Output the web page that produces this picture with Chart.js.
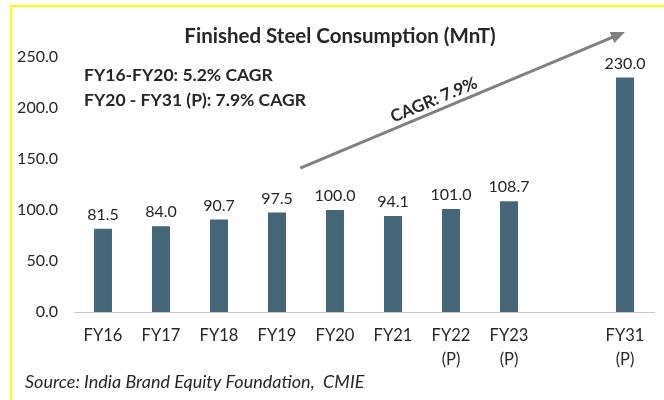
<!DOCTYPE html>
<html>
<head>
<meta charset="utf-8">
<script src="https://cdn.jsdelivr.net/npm/chart.js@4.4.1/dist/chart.umd.min.js"></script>
<style>
  body { margin: 0; background: #fff; }
  canvas { display: block; }
</style>
</head>
<body>
<canvas id="steel-chart" width="664" height="400"></canvas>
<script>
// chart data
const categories = [['FY16'], ['FY17'], ['FY18'], ['FY19'], ['FY20'], ['FY21'],
    ['FY22', '(P)'], ['FY23', '(P)'], '', ['FY31', '(P)']];
const consumption = [81.5, 84.0, 90.7, 97.5, 100.0, 94.1, 101.0, 108.7, null, 230.0];
const yTicks = [0, 50, 100, 150, 200, 250];
const cagrNotes = ['FY16-FY20: 5.2% CAGR', 'FY20 - FY31 (P): 7.9% CAGR'];
const arrowNote = 'CAGR: 7.9%';
const sourceNote = 'Source: India Brand Equity Foundation,  CMIE';

const FONT = 'Lato, "Open Sans", sans-serif';
const TEXT = '#262626';

const decorPlugin = {
    id: 'decor',
    beforeDraw(chart) {
        const ctx = chart.ctx;
        ctx.save();
        ctx.fillStyle = '#fff';
        ctx.fillRect(0, 0, chart.width, chart.height);
        // yellow frame (top + left only)
        ctx.fillStyle = '#ffff00';
        ctx.fillRect(10, 5, chart.width - 10, 2);
        ctx.fillRect(10, 5, 2, chart.height - 5);
        ctx.restore();
    },
    afterDraw(chart) {
        const ctx = chart.ctx;
        const x = chart.scales.x, y = chart.scales.y;
        ctx.save();

        // value labels above bars
        ctx.fillStyle = TEXT;
        ctx.font = '16px ' + FONT;
        ctx.textAlign = 'center';
        ctx.textBaseline = 'bottom';
        chart.getDatasetMeta(0).data.forEach((bar, i) => {
            const v = consumption[i];
            if (v == null) return;
            ctx.fillText(v.toFixed(1), bar.x, bar.y - 6);
        });

        // title
        ctx.font = 'bold 20.5px ' + FONT;
        ctx.fillText('Finished Steel Consumption (MnT)', 340, 47);

        // CAGR notes
        ctx.textAlign = 'left';
        ctx.textBaseline = 'middle';
        ctx.font = 'bold 17.5px ' + FONT;
        cagrNotes.forEach((t, i) => ctx.fillText(t, 84, 75 + i * 25));

        // growth arrow, anchored to the scales
        const x0 = x.getPixelForValue(3.4), y0 = y.getPixelForValue(141);
        const x1 = x.getPixelForValue(9), y1 = y.getPixelForValue(274.5);
        const ang = Math.atan2(y1 - y0, x1 - x0);
        ctx.strokeStyle = '#808080';
        ctx.fillStyle = '#808080';
        ctx.lineWidth = 3;
        ctx.beginPath();
        ctx.moveTo(x0, y0);
        ctx.lineTo(x1 - 10 * Math.cos(ang), y1 - 10 * Math.sin(ang));
        ctx.stroke();
        ctx.beginPath();
        ctx.moveTo(x1, y1);
        ctx.lineTo(x1 - 14 * Math.cos(ang) + 6 * Math.sin(ang), y1 - 14 * Math.sin(ang) - 6 * Math.cos(ang));
        ctx.lineTo(x1 - 14 * Math.cos(ang) - 6 * Math.sin(ang), y1 - 14 * Math.sin(ang) + 6 * Math.cos(ang));
        ctx.closePath();
        ctx.fill();

        ctx.save();
        ctx.translate(434, 100);
        ctx.rotate(ang);
        ctx.fillStyle = TEXT;
        ctx.textAlign = 'center';
        ctx.font = 'bold 17px ' + FONT;
        ctx.fillText(arrowNote, 0, 0);
        ctx.restore();

        // source
        ctx.fillStyle = TEXT;
        ctx.font = 'italic 18px ' + FONT;
        ctx.textAlign = 'left';
        ctx.fillText(sourceNote, 25, 382);
        ctx.restore();
    }
};

new Chart(document.getElementById('steel-chart'), {
    type: 'bar',
    data: {
        labels: categories,
        datasets: [{
            data: consumption,
            backgroundColor: '#456679',
            categoryPercentage: 1,
            barPercentage: 0.31
        }]
    },
    options: {
        responsive: false,
        animation: false,
        layout: { padding: { top: 57, right: 10, left: 0, bottom: 0 } },
        plugins: {
            legend: { display: false },
            tooltip: { enabled: false }
        },
        scales: {
            x: {
                grid: { display: false, drawTicks: false },
                border: { display: true, color: '#c8c8c8', width: 1, dash: [2, 2] },
                ticks: {
                    color: TEXT,
                    font: { family: FONT, size: 16.5, lineHeight: 1.45 },
                    padding: 12,
                    maxRotation: 0,
                    autoSkip: false
                },
                afterFit(axis) { axis.height = 88; }
            },
            y: {
                min: 0,
                max: yTicks[yTicks.length - 1],
                grid: { display: false, drawTicks: false },
                border: { display: false },
                afterBuildTicks(axis) { axis.ticks = yTicks.map(v => ({ value: v })); },
                ticks: {
                    color: TEXT,
                    font: { family: FONT, size: 16 },
                    padding: 16,
                    callback: v => v.toFixed(1)
                },
                afterFit(axis) { axis.width = 74; }
            }
        }
    },
    plugins: [decorPlugin]
});
</script>
</body>
</html>
